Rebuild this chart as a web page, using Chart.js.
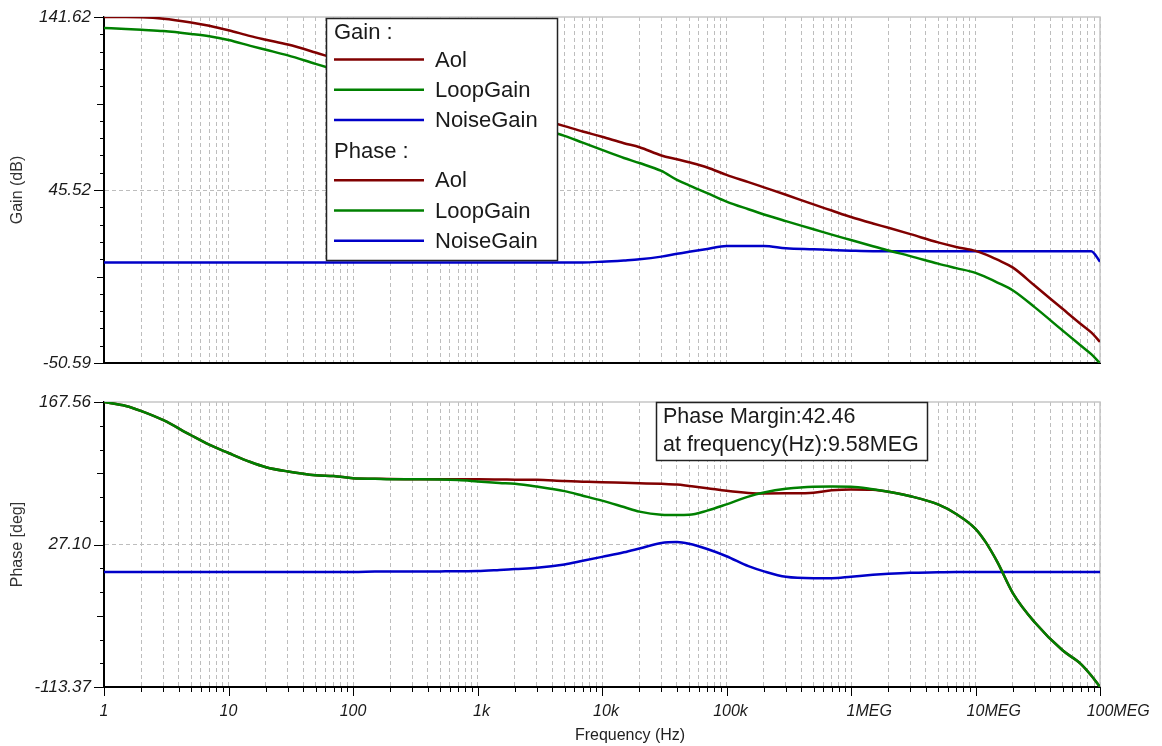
<!DOCTYPE html>
<html>
<head>
<meta charset="utf-8">
<title>Bode plot</title>
<script src="https://cdn.jsdelivr.net/npm/chart.js@4.4.1/dist/chart.umd.min.js"></script>
<style>
  html, body { margin: 0; padding: 0; background: #fff; }
  #wrap { position: relative; width: 1162px; height: 746px; overflow: hidden; }
  #wrap canvas { position: absolute; left: 0; }
</style>
</head>
<body>
<div id="wrap">
  <canvas id="gainChart" width="1162" height="380" style="top:0"></canvas>
  <canvas id="phaseChart" width="1162" height="366" style="top:380px"></canvas>
</div>
<script>
// frequency points (Hz)
const freqs = [1, 1.5, 2, 3, 5, 7, 10, 15, 20, 30, 50, 70, 100, 150, 200, 300, 500, 700,
  1e3, 1.5e3, 2e3, 3e3, 5e3, 7e3, 1e4, 1.5e4, 2e4, 3e4, 4e4, 5e4, 7e4, 1e5, 1.5e5, 2e5, 3e5, 5e5, 7e5,
  1e6, 1.5e6, 2e6, 3e6, 5e6, 7e6, 1e7, 1.2e7, 1.5e7, 2e7, 3e7, 5e7, 7e7, 8.5e7, 1e8];

// gain (dB)
const aolGain = [141.6, 141.6, 141.5, 140.7, 138.6, 136.8, 134.3, 131.0, 129.0, 126.3,
  121.9, 118.8, 115.7, 112.1, 109.5, 105.9, 101.4, 98.4, 95.3, 91.7,
  89.2, 85.5, 81.0, 78.0, 75.1, 71.5, 69.3, 64.7, 62.6, 60.9, 58.0,
  53.9, 49.9, 47.0, 42.9, 37.5, 34.1, 30.5, 26.9, 24.5, 21.0,
  16.4, 13.9, 11.7, 9.8, 6.8, 2.4, -7.7, -20.5, -28.9, -33.6, -38.8];
const loopGain = [135.5, 135.0, 134.5, 133.8, 132.2, 130.9, 128.8, 125.6, 123.4, 120.3,
  115.6, 112.6, 109.5, 106.0, 103.5, 100.0, 95.6, 92.7, 89.7, 86.2,
  83.7, 80.1, 75.6, 71.8, 67.8, 63.3, 60.5, 56.1, 51.1, 48.1, 43.8,
  39.1, 34.8, 31.9, 28.2, 23.7, 20.7, 17.7, 14.3, 11.9, 8.8,
  4.6, 2.1, -0.5, -2.8, -5.9, -10.3, -19.7, -32.5, -40.9, -45.7, -50.59];
const noiseGain = [5.3, 5.3, 5.3, 5.3, 5.3, 5.3, 5.3, 5.3, 5.3, 5.3,
  5.3, 5.3, 5.3, 5.3, 5.3, 5.3, 5.3, 5.3, 5.3, 5.3,
  5.3, 5.3, 5.3, 5.3, 5.7, 6.4, 7.0, 8.5, 10.1, 11.2, 12.8,
  14.4, 14.4, 14.4, 13.2, 12.6, 12.2, 11.8, 11.5, 11.5, 11.5,
  11.5, 11.5, 11.5, 11.5, 11.5, 11.5, 11.5, 11.5, 11.5, 11.5, 5.7];

// phase (deg)
const aolPhase = [167.56, 163.7, 158.6, 149.6, 134.8, 125.5, 117.3, 108.4, 103.3, 99.1,
  95.4, 94.6, 92.4, 91.9, 91.6, 91.5, 91.4, 91.4, 91.4, 91.2,
  91.0, 90.8, 89.6, 89.0, 88.4, 87.9, 87.5, 86.9, 86.2, 84.8, 82.6,
  80.0, 77.9, 77.3, 77.5, 78.2, 80.5, 81.4, 81.0, 79.1, 74.7,
  66.6, 57.2, 42.6, 29.9, 9.7, -21.0, -49.8, -77.2, -90.5, -102.0, -113.37];
const loopPhase = [167.56, 163.7, 158.6, 149.6, 134.8, 125.5, 117.3, 108.4, 103.3, 99.1,
  95.4, 94.6, 92.4, 91.9, 91.5, 91.4, 91.2, 90.6, 89.3, 87.8,
  87.0, 84.2, 79.7, 75.2, 70.3, 64.0, 59.5, 56.5, 56.2, 56.4, 60.5,
  66.7, 74.3, 78.3, 82.0, 84.1, 84.2, 84.0, 81.5, 79.1, 74.7,
  66.6, 57.2, 42.6, 29.9, 9.7, -21.0, -49.8, -77.2, -90.5, -102.0, -113.37];
const noisePhase = [0, 0, 0, 0, 0, 0, 0, 0, 0, 0,
  0, 0, 0, 0.4, 0.5, 0.5, 0.6, 0.7, 0.9, 2.0,
  2.9, 4.1, 7.4, 11.0, 14.9, 19.4, 23.2, 28.6, 29.5, 27.8, 22.6,
  15.5, 5.7, 0.6, -4.8, -6.2, -6.1, -4.6, -2.8, -1.8, -0.8,
  -0.3, 0, 0, 0, 0, 0, 0, 0, 0, 0, 0];

const seriesNames = ['Aol', 'LoopGain', 'NoiseGain'];
const seriesColors = ['#800000', '#008000', '#0000c8'];
const legendGroups = ['Gain :', 'Phase :'];

const xDecades = [1, 10, 100, 1e3, 1e4, 1e5, 1e6, 1e7, 1e8];
const xTickLabels = ['1', '10', '100', '1k', '10k', '100k', '1MEG', '10MEG', '100MEG'];
const gainTickLabels = ['-50.59', '45.52', '141.62'];
const phaseTickLabels = ['-113.37', '27.10', '167.56'];
const marginLines = ['Phase Margin:42.46', 'at frequency(Hz):9.58MEG'];
const xTitle = 'Frequency (Hz)';

const FONT_FAMILY = 'Arial, "Liberation Sans", sans-serif';
const GRID_COLOR = '#bdbdbd';
const FRAME_COLOR = '#c6c6c6';
const TEXT_COLOR = '#1a1a1a';

// 1..9 per decade, for the dashed grid
function logGridValues() {
  const vals = [];
  xDecades.forEach((d, k) => {
    if (k === xDecades.length - 1) { vals.push(d); return; }
    for (let m = 1; m <= 9; m++) vals.push(d * m);
  });
  return vals;
}

function buildDatasets(series) {
  const order = [1, 0, 2]; // green on top, blue underneath
  return series.map((values, i) => ({
    label: seriesNames[i],
    data: freqs.map((f, k) => ({ x: f, y: values[k] })),
    borderColor: seriesColors[i],
    backgroundColor: seriesColors[i],
    borderWidth: 2.5,
    pointRadius: 0,
    cubicInterpolationMode: 'monotone',
    order: order[i]
  }));
}

function xAxis(height) {
  return {
    type: 'logarithmic',
    min: 1,
    max: 1e8,
    afterBuildTicks: s => { s.ticks = logGridValues().map(v => ({ value: v })); },
    afterFit: s => { s.height = height; },
    ticks: { display: false },
    grid: { color: GRID_COLOR, lineWidth: 1, drawTicks: false },
    border: { color: '#000', width: 2, dash: [4, 3] }
  };
}

function yAxis(labels, divisions, title) {
  const min = parseFloat(labels[0]);
  const max = parseFloat(labels[2]);
  const half = divisions / 2;
  return {
    type: 'linear',
    min: min,
    max: max,
    afterBuildTicks: s => {
      const t = [];
      for (let i = 0; i <= divisions; i++) t.push({ value: min + (max - min) * i / divisions });
      s.ticks = t;
    },
    afterFit: s => {
      s.width = 104;
      // keep the plot edges where the layout padding puts them
      s.paddingTop = 0;
      s.paddingBottom = 0;
    },
    ticks: {
      autoSkip: false,
      padding: 13,
      color: TEXT_COLOR,
      font: { family: FONT_FAMILY, size: 17, style: 'italic' },
      callback: (v, i) => (i % half === 0 ? labels[i / half] : '')
    },
    grid: {
      drawTicks: false,
      lineWidth: 1,
      color: ctx => (ctx.index === half ? GRID_COLOR : 'rgba(0,0,0,0)')
    },
    border: { color: '#000', width: 2, dash: [4, 3] },
    title: {
      display: true,
      text: title,
      color: '#333',
      font: { family: FONT_FAMILY, size: 16 },
      padding: { top: 8, bottom: 0 }
    }
  };
}

// light frame on top/right plus the axis tick marks
const axisMarks = {
  id: 'axisMarks',
  beforeDatasetsDraw(chart, args, opts) {
    const { ctx, chartArea: a } = chart;
    ctx.save();
    ctx.strokeStyle = FRAME_COLOR;
    ctx.lineWidth = 1.5;
    ctx.beginPath();
    ctx.moveTo(a.left, a.top);
    ctx.lineTo(a.right, a.top);
    ctx.lineTo(a.right, a.bottom);
    ctx.stroke();

    const y = chart.scales.y;
    const n = y.ticks.length - 1;
    ctx.strokeStyle = '#000';
    ctx.lineWidth = 1;
    ctx.beginPath();
    y.ticks.forEach((t, i) => {
      const len = i % (n / 2) === 0 ? 10 : (i % (n / 4) === 0 ? 7 : 4);
      const py = Math.round(y.getPixelForValue(t.value)) + 0.5;
      ctx.moveTo(a.left - len, py);
      ctx.lineTo(a.left, py);
    });
    if (opts.frequencyTicks) {
      const x = chart.scales.x;
      x.ticks.forEach(t => {
        const len = xDecades.includes(t.value) ? 9 : 5;
        const px = Math.round(x.getPixelForValue(t.value)) + 0.5;
        ctx.moveTo(px, a.bottom);
        ctx.lineTo(px, a.bottom + len);
      });
    }
    ctx.stroke();
    ctx.restore();
  }
};

// frequency labels: the number part sits centred on its tick
const freqLabels = {
  id: 'freqLabels',
  afterDraw(chart) {
    const { ctx, chartArea: a, scales: { x } } = chart;
    ctx.save();
    ctx.fillStyle = TEXT_COLOR;
    ctx.textBaseline = 'middle';
    ctx.textAlign = 'left';
    ctx.font = 'italic 16px ' + FONT_FAMILY;
    xDecades.forEach((v, i) => {
      const label = xTickLabels[i];
      const num = label.match(/^[\d.]+/)[0];
      const px = x.getPixelForValue(v) - ctx.measureText(num).width / 2;
      ctx.fillText(label, px, a.bottom + 25);
    });
    ctx.font = '16px ' + FONT_FAMILY;
    ctx.fillStyle = '#222';
    ctx.textAlign = 'center';
    ctx.fillText(xTitle, (a.left + a.right) / 2 + 28, a.bottom + 49);
    ctx.restore();
  }
};

const bodeLegend = {
  id: 'bodeLegend',
  afterDatasetsDraw(chart) {
    const { ctx } = chart;
    ctx.save();
    ctx.fillStyle = '#fff';
    ctx.fillRect(326.5, 18.5, 231, 242);
    ctx.strokeStyle = '#222';
    ctx.lineWidth = 1.5;
    ctx.strokeRect(326.5, 18.5, 231, 242);
    ctx.font = '22px ' + FONT_FAMILY;
    ctx.textBaseline = 'middle';
    ctx.textAlign = 'left';
    const headerY = [33, 151.5];
    const firstRowY = [59.5, 180.2];
    legendGroups.forEach((title, g) => {
      ctx.fillStyle = TEXT_COLOR;
      ctx.fillText(title, 334, headerY[g]);
      seriesNames.forEach((name, i) => {
        const yy = firstRowY[g] + i * 30.3;
        ctx.strokeStyle = seriesColors[i];
        ctx.lineWidth = 2.5;
        ctx.beginPath();
        ctx.moveTo(334, yy);
        ctx.lineTo(424, yy);
        ctx.stroke();
        ctx.fillStyle = TEXT_COLOR;
        ctx.fillText(name, 435, yy + 1);
      });
    });
    ctx.restore();
  }
};

const marginNote = {
  id: 'marginNote',
  afterDatasetsDraw(chart) {
    const { ctx, chartArea: a } = chart;
    const bx = 656.5, by = Math.round(a.top) + 0.5;
    ctx.save();
    ctx.fillStyle = '#fff';
    ctx.fillRect(bx, by, 271, 58);
    ctx.strokeStyle = '#222';
    ctx.lineWidth = 1.5;
    ctx.strokeRect(bx, by, 271, 58);
    ctx.font = '21.5px ' + FONT_FAMILY;
    ctx.fillStyle = TEXT_COLOR;
    ctx.textBaseline = 'middle';
    marginLines.forEach((t, i) => ctx.fillText(t, 663, by + 15 + i * 28));
    ctx.restore();
  }
};

function baseOptions(padTop, xHeight, yCfg, frequencyTicks) {
  return {
    responsive: false,
    animation: false,
    events: [],
    layout: { padding: { top: padTop, right: 62, left: 0, bottom: 0 } },
    scales: { x: xAxis(xHeight), y: yCfg },
    plugins: {
      legend: { display: false },
      tooltip: { enabled: false },
      axisMarks: { frequencyTicks: frequencyTicks }
    }
  };
}

new Chart(document.getElementById('gainChart'), {
  type: 'line',
  data: { datasets: buildDatasets([aolGain, loopGain, noiseGain]) },
  options: baseOptions(17, 17, yAxis(gainTickLabels, 20, 'Gain (dB)'), false),
  plugins: [axisMarks, bodeLegend]
});

new Chart(document.getElementById('phaseChart'), {
  type: 'line',
  data: { datasets: buildDatasets([aolPhase, loopPhase, noisePhase]) },
  options: baseOptions(22, 59, yAxis(phaseTickLabels, 12, 'Phase [deg]'), true),
  plugins: [axisMarks, freqLabels, marginNote]
});
</script>
</body>
</html>
